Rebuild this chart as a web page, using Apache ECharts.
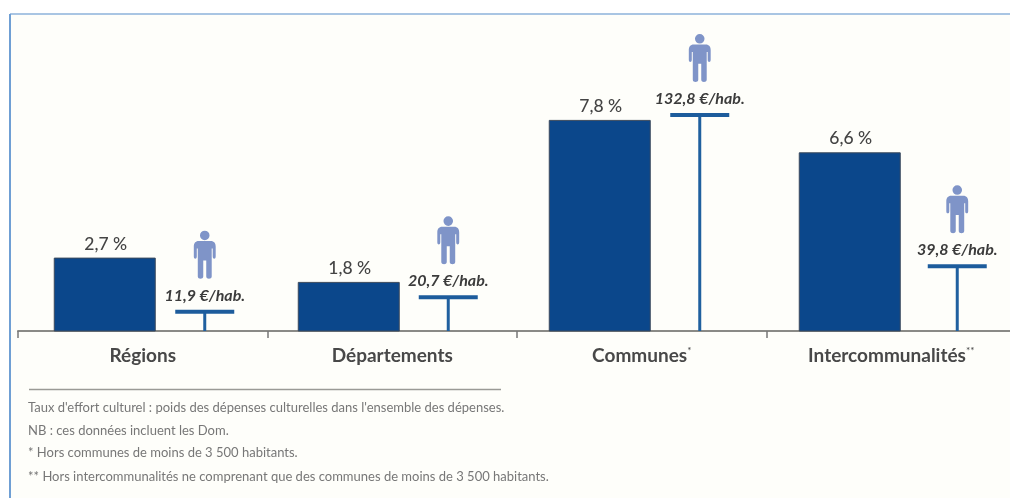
<!DOCTYPE html>
<html><head><meta charset="utf-8">
<style>html,body{margin:0;padding:0;background:#fff}#c{width:1010px;height:498px;filter:blur(0.7px)}</style>
<script src="https://cdn.jsdelivr.net/npm/echarts@6/dist/echarts.min.js"></script>
</head><body><div id="c"></div>
<script>
const categories = ['Régions', 'Départements', 'Communes', 'Intercommunalités'];
const categoryMarks = ['', '', '*', '**'];
const effortPercent = [2.7, 1.8, 7.8, 6.6];
const eurosPerInhabitant = [11.9, 20.7, 132.8, 39.8];
const footnotes = [
  "Taux d'effort culturel : poids des dépenses culturelles dans l'ensemble des dépenses.",
  'NB : ces données incluent les Dom.',
  '* Hors communes de moins de 3 500 habitants.',
  '** Hors intercommunalités ne comprenant que des communes de moins de 3 500 habitants.'
];

// layout only: horizontal shift from each band centre, in pixels
const barShift = [-38, -43.5, -42, -41.5];
const tShift = [62, 56, 58, 66];
const FONT = 'Lato,"Open Sans",sans-serif';
const PERSON = 'M11 0a4.8 4.8 0 1 1 0 9.6a4.8 4.8 0 1 1 0-9.6M5 10.5H17C20.5 10.5 22 13 22 16V26C22 29 19 29 19 26V18H18V46C18 49 12.5 49 12.5 46V30H9.5V46C9.5 49 4 49 4 46V18H3V26C3 29 0 29 0 26V16C0 13 1.5 10.5 5 10.5Z';
const fmt = v => String(v).replace('.', ',');

function renderBar(params, api) {
  const i = api.value(0), v = api.value(1);
  const top = api.coord([i, v]), base = api.coord([i, 0]);
  const cx = top[0] + barShift[i];
  return { type: 'group', children: [
    { type: 'rect', shape: { x: cx - 50.5, y: top[1], width: 101, height: base[1] - top[1] },
      style: { fill: '#0b478b', stroke: '#3c4a5c', lineWidth: 1 } },
    { type: 'text', style: { x: cx + 1, y: top[1] - 14, text: fmt(v) + ' %', align: 'center', verticalAlign: 'middle',
      font: '500 17.5px ' + FONT, fill: '#444' } }
  ]};
}
function renderT(params, api) {
  const i = api.value(0), v = api.value(1);
  const top = api.coord([i, v]), base = api.coord([i, 0]);
  const cx = top[0] + tShift[i];
  return { type: 'group', children: [
    { type: 'rect', shape: { x: cx - 1.5, y: top[1], width: 3, height: base[1] - top[1] }, style: { fill: '#20609f' } },
    { type: 'rect', shape: { x: cx - 29.5, y: top[1] - 2, width: 59, height: 4 }, style: { fill: '#1d5c9c' } },
    { type: 'text', style: { x: cx, y: top[1] - 16, text: fmt(v) + ' €/hab.', align: 'center', verticalAlign: 'middle',
      font: 'italic bold 16px ' + FONT, fill: '#3c3c3c' } },
    { type: 'path', shape: { pathData: PERSON, x: cx - 11, y: top[1] - 81, width: 22, height: 48 }, style: { fill: '#7f94c8' } }
  ]};
}

const chart = echarts.init(document.getElementById('c'));
chart.setOption({
  animation: false,
  backgroundColor: '#fff',
  grid: { left: 18, width: 998, top: 61, height: 270, outerBoundsMode: 'none' },
  xAxis: { type: 'category', data: categories, boundaryGap: true,
    axisLine: { lineStyle: { color: '#8a8a86', width: 2 } },
    axisTick: { show: true, length: 7, lineStyle: { color: '#777', width: 1.5 } },
    axisLabel: { interval: 0, margin: 15, color: '#404040', hideOverlap: false,
      formatter: (v, i) => categoryMarks[i] ? '{n|' + v + '}{s|' + categoryMarks[i] + '}' : '{n|' + v + '}',
      rich: { n: { fontFamily: FONT, fontSize: 19, fontWeight: 'bold', color: '#484848' },
              s: { fontFamily: FONT, fontSize: 10, color: '#404040', verticalAlign: 'top', padding: [0, 0, 10, 0] } } } },
  yAxis: [
    { type: 'value', min: 0, max: 10, show: false },
    { type: 'value', min: 0, max: 166, show: false }
  ],
  series: [
    { name: "Taux d'effort culturel", type: 'custom', yAxisIndex: 0, encode: { x: 0, y: 1 }, clip: false, z: 3,
      data: effortPercent.map((v, i) => [i, v]), renderItem: renderBar },
    { name: 'Dépenses par habitant', type: 'custom', yAxisIndex: 1, encode: { x: 0, y: 1 }, clip: false, z: 3,
      data: eurosPerInhabitant.map((v, i) => [i, v]), renderItem: renderT }
  ],
  graphic: [
    { type: 'rect', silent: true, z: -10, shape: { x: 10, y: 14, width: 1000, height: 484 }, style: { fill: '#fefefa' } },
    { type: 'line', silent: true, shape: { x1: 10, y1: 14, x2: 1010, y2: 14 }, style: { stroke: '#a9c5e3', lineWidth: 2 } },
    { type: 'line', silent: true, shape: { x1: 10, y1: 14, x2: 10, y2: 498 }, style: { stroke: '#6f9fd4', lineWidth: 2 } },
    { type: 'line', silent: true, shape: { x1: 29, y1: 389.5, x2: 501, y2: 389.5 }, style: { stroke: '#9a9a96', lineWidth: 1.5 } },
    ...footnotes.map((t, i) => ({ type: 'text', silent: true,
      style: { x: 28, y: [408, 431, 453, 477][i], text: t, verticalAlign: 'middle', font: '13px ' + FONT, fill: '#777' } }))
  ]
});
</script></body></html>
